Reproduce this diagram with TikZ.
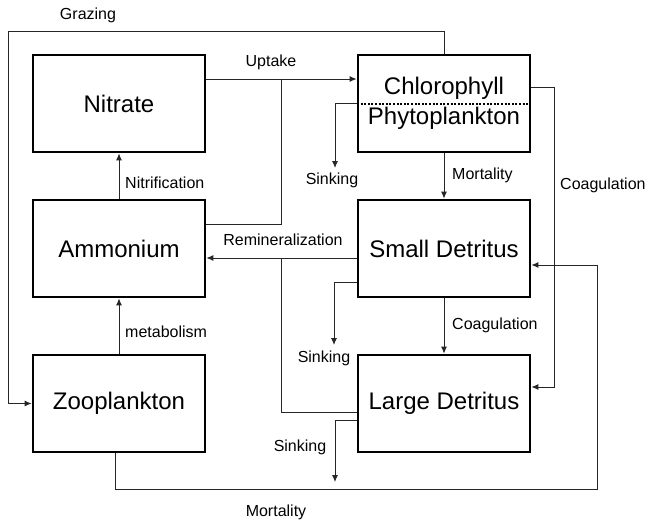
\documentclass[tikz,border=0pt]{standalone}
\usepackage{fontspec}
\setmainfont{Liberation Sans}
\usetikzlibrary{arrows.meta}
\begin{document}
\begin{tikzpicture}[x=1pt,y=-1pt,
  box/.style={draw=black, line width=2.8pt, minimum width=172pt, minimum height=97pt, inner sep=0pt, font=\fontsize{24}{28}\selectfont},
  conn/.style={draw=black!85, line width=0.9pt},
  arr/.style={conn, -{Latex[length=7pt,width=6pt]}},
  lbl/.style={font=\fontsize{16}{19}\selectfont, inner sep=0pt}]
\useasboundingbox (0,0) rectangle (649,523);
% boxes
\node[box] (nit) at (119,103.5) {Nitrate};
\node[box] (chl) at (444,103.5) {};
\node[box] (amm) at (119,248.5) {Ammonium};
\node[box] (sd) at (444,248.5) {Small Detritus};
\node[box] (zoo) at (119,403.5) {Zooplankton};
\node[box] (ld) at (444,403.5) {Large Detritus};
\node[font=\fontsize{24}{28}\selectfont, inner sep=0pt] (chltxt) at (444,88) {Chlorophyll};
\node[font=\fontsize{24}{28}\selectfont, inner sep=0pt] (phytxt) at (444,118) {Phytoplankton};
\draw[line width=2pt, dash pattern=on 2pt off 1.6pt] ([xshift=4pt]chl.west) -- ([xshift=-1.4pt]chl.east);
% coordinates
\coordinate (ju) at (281,79);
\coordinate (jr) at (281,258);
\coordinate (g1) at (444,31);
\coordinate (g2) at (8,31);
\coordinate (s1) at (335,168);
\coordinate (c1) at (554,87);
\coordinate (s2) at (334,345);
\coordinate (s3) at (335,482);
\coordinate (m1) at (115,489);
\coordinate (m2) at (597,489);
% Uptake
\draw[arr] ([yshift=24.5pt]nit.east) -- ([yshift=24.5pt]chl.west);
\draw[conn] ([yshift=24.5pt]amm.east) -| (ju);
\node[lbl] (lup) at (271,62) {Uptake};
% Nitrification
\draw[arr] (amm.north) -- (nit.south);
\node[lbl, anchor=west] (lnit) at (125,183) {Nitrification};
% metabolism
\draw[arr] (zoo.north) -- (amm.south);
\node[lbl, anchor=west] (lmet) at (125,332) {metabolism};
% Grazing
\draw[arr] (chl.north) -- (g1) -- (g2) |- (zoo.west);
\node[lbl] (lgr) at (88,15) {Grazing};
% Chl sinking
\draw[arr] (chl.west) -| (s1);
\node[lbl] (ls1) at (332,180) {Sinking};
% Mortality chl -> sd
\draw[arr] (chl.south) -- (sd.north);
\node[lbl, anchor=west] (lmo) at (452,175) {Mortality};
% Coagulation chl -> ld
\draw[arr] ([yshift=16.5pt]chl.east) -- (c1) |- ([yshift=16.5pt]ld.east);
\node[lbl, anchor=west] (lco1) at (560,185) {Coagulation};
% Remineralization
\draw[arr] ([yshift=-9.5pt]sd.west) -- ([yshift=-9.5pt]amm.east);
\draw[conn] ([yshift=-8.5pt]ld.west) -| (jr);
\node[lbl] (lrem) at (283,240) {Remineralization};
% SD sinking
\draw[arr] ([yshift=-33.5pt]sd.west) -| (s2);
\node[lbl] (ls2) at (324,358) {Sinking};
% SD -> LD
\draw[arr] (sd.south) -- (ld.north);
\node[lbl, anchor=west] (lco2) at (452,325) {Coagulation};
% LD sinking
\draw[arr] ([yshift=-16.5pt]ld.west) -| (s3);
\node[lbl] (ls3) at (300,447) {Sinking};
% Zoo mortality
\draw[arr] ([xshift=-4pt]zoo.south) -- (m1) -- (m2) |- ([yshift=-16.5pt]sd.east);
\node[lbl] (lmo2) at (276,512) {Mortality};
\end{tikzpicture}
\end{document}
